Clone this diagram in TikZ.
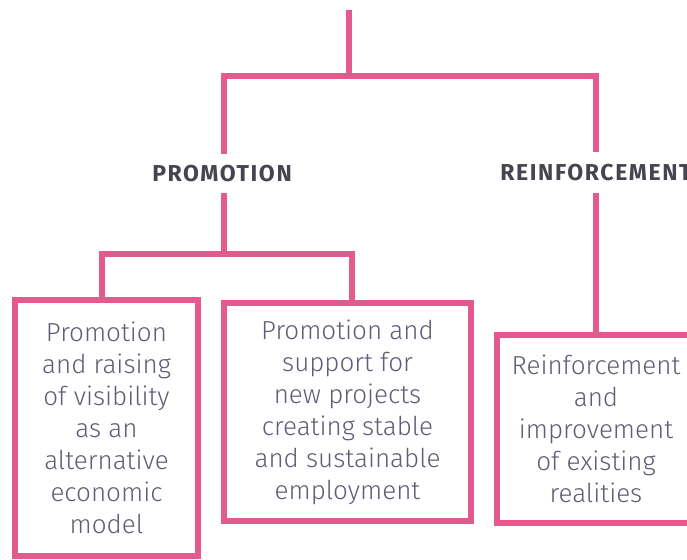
\documentclass[tikz,border=0pt]{standalone}
\usepackage{fontspec}
\setmainfont{Fira Sans}
\newfontfamily\lightfont{Fira Sans Light}
\usepackage{xcolor}
\usepackage{tikz}

\definecolor{pinkline}{HTML}{E35A8E}
\definecolor{boxtext}{HTML}{5E5E76}
\definecolor{headtext}{HTML}{45454F}

\tikzset{
  link/.style={draw=pinkline, line width=6, line join=miter},
  branch/.style={draw=pinkline, line width=6, fill=white, align=center,
    inner sep=0, text=boxtext, font=\lightfont\fontsize{26}{32}\selectfont},
  heading/.style={inner sep=0, text=headtext, text depth=0pt,
    font=\bfseries\fontsize{23}{23}\selectfont\addfontfeature{LetterSpace=7}}
}

\begin{document}
\begin{tikzpicture}[x=1pt,y=-1pt]
\useasboundingbox (0,0) rectangle (687,559);
\clip (0,0) rectangle (687,559);
\fill[white] (0,0) rectangle (687,559);

\coordinate (root) at (349,10);
\coordinate (top) at (349,76.5);
\coordinate (fork) at (224,254);

\node[heading, minimum height=38] (promo) at (222,173.5) {PROMOTION};
\node[heading, minimum height=41] (reinf) at (596,172.5) {REINFORCEMENT};

% links
\draw[link] (root)--(top);
\draw[link] ([xshift=2]promo.north)--([xshift=2]promo.north |- top)--(reinf.north |- top)--(reinf.north);
\draw[link] ([xshift=2]promo.south)--(fork);

\node[branch, minimum width=183, minimum height=256] (visib) at (106.5,428)
  {Promotion\\and raising\\of visibility\\as an\\alternative\\economic\\model};
\node[branch, minimum width=247, minimum height=218] (jobs) at (347.5,412)
  {Promotion and\\support for\\new projects\\creating stable\\and sustainable\\employment};
\node[branch, minimum width=198, minimum height=188] (exist) at (596,429)
  {Reinforcement\\and\\improvement\\of existing\\realities};

\draw[link] ([xshift=-4.5]visib.north)--([xshift=-4.5]visib.north |- fork)
  --([xshift=4]jobs.north |- fork)--([xshift=4]jobs.north);
\draw[link] (reinf.south)--(exist.north);

\end{tikzpicture}
\end{document}
